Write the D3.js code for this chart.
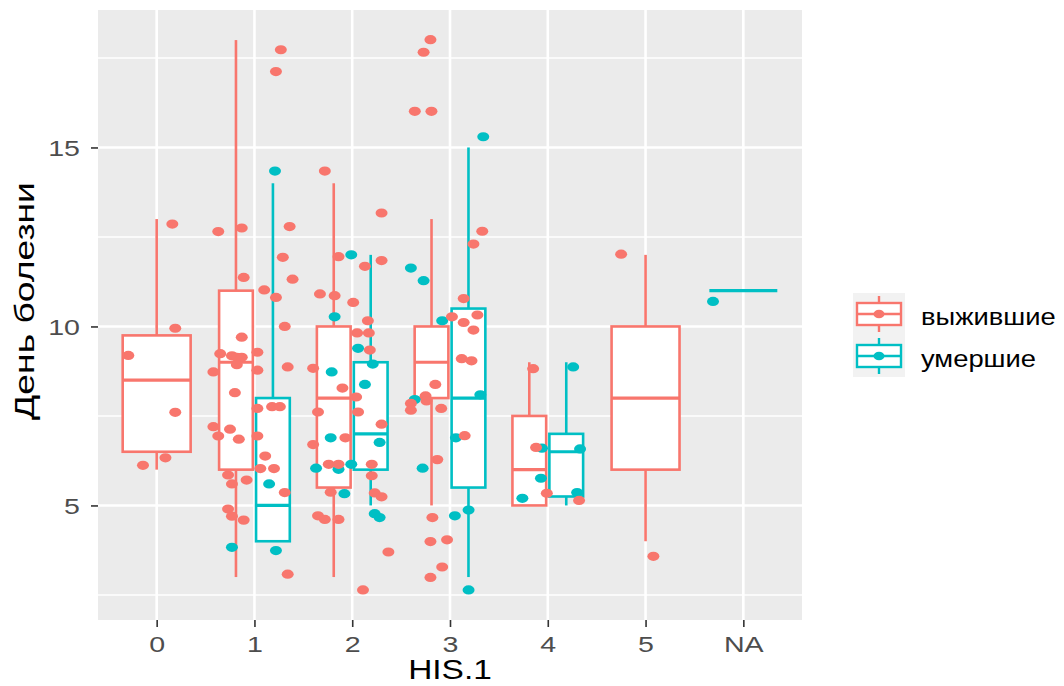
<!DOCTYPE html>
<html>
<head>
<meta charset="utf-8">
<script src="https://cdn.jsdelivr.net/npm/d3@7"></script>
<style>
  body { margin: 0; background: #fff; }
  text { font-family: "Liberation Sans", Arial, sans-serif; }
</style>
</head>
<body>
<svg id="chart" width="1064" height="686"></svg>
<script>
// ---- data ---------------------------------------------------------------
const categories = ["0", "1", "2", "3", "4", "5", "NA"];
const groups = ["выжившие", "умершие"];
const groupColors = ["#F8766D", "#00BFC4"];
const yTicks = [5, 10, 15];
const yMinorTicks = [2.5, 7.5, 12.5, 17.5];

// box statistics: [category, lower whisker, Q1, median, Q3, upper whisker]
const boxesSurvived = [
  ["0", 6, 6.5, 8.5, 9.75, 13],
  ["1", 3, 6, 9, 11, 18],
  ["2", 3, 5.5, 8, 10, 14],
  ["3", 5, 8, 9, 10, 13],
  ["4", 5, 5, 6, 7.5, 9],
  ["5", 4, 6, 8, 10, 12]
];
const boxesDied = [
  ["1", 4, 4, 5, 8, 14],
  ["2", 5, 6, 7, 9, 12],
  ["3", 3, 5.5, 8, 10.5, 15],
  ["4", 5, 5.25, 6.5, 7, 9],
  ["NA", 11, 11, 11, 11, 11]
];

// jittered observations: [category, horizontal jitter (category units), day]
const pointsSurvived = [
  ["0", 0.16, 12.86], ["0", 0.19, 9.95], ["0", -0.29, 9.19], ["0", 0.19, 7.6],
  ["0", 0.09, 6.33], ["0", -0.14, 6.12],
  ["1", 0.27, 17.73], ["1", 0.22, 17.12], ["1", -0.37, 12.65], ["1", -0.13, 12.75],
  ["1", 0.36, 12.79], ["1", 0.29, 11.93], ["1", 0.39, 11.32], ["1", -0.11, 11.37],
  ["1", 0.10, 11.02], ["1", 0.22, 10.81], ["1", 0.31, 10.0], ["1", -0.13, 9.7],
  ["1", -0.35, 9.24], ["1", -0.23, 9.18], ["1", -0.18, 9.14], ["1", -0.13, 9.14],
  ["1", -0.18, 8.93], ["1", 0.03, 9.28], ["1", 0.03, 8.78], ["1", 0.34, 8.87],
  ["1", -0.42, 8.73], ["1", -0.20, 8.15], ["1", 0.03, 7.71], ["1", 0.18, 7.76],
  ["1", 0.26, 7.76], ["1", -0.42, 7.2], ["1", -0.25, 7.13], ["1", -0.37, 6.94],
  ["1", -0.16, 6.85], ["1", 0.03, 6.94], ["1", 0.11, 6.38], ["1", 0.06, 6.03],
  ["1", 0.20, 6.03], ["1", -0.27, 5.85], ["1", -0.23, 5.6], ["1", -0.08, 5.71],
  ["1", 0.31, 5.36], ["1", -0.27, 4.9], ["1", -0.23, 4.7], ["1", -0.11, 4.59],
  ["1", 0.34, 3.08],
  ["2", -0.28, 14.34], ["2", -0.14, 11.95], ["2", 0.30, 13.17], ["2", 0.30, 11.84],
  ["2", 0.13, 11.68], ["2", -0.33, 10.91], ["2", -0.18, 10.86], ["2", 0.01, 10.67],
  ["2", 0.16, 10.16], ["2", 0.05, 9.82], ["2", 0.17, 9.82], ["2", 0.18, 9.34],
  ["2", -0.40, 8.83], ["2", -0.10, 8.28], ["2", 0.04, 8.03], ["2", -0.35, 7.61],
  ["2", 0.06, 7.61], ["2", -0.07, 6.89], ["2", -0.40, 6.7], ["2", 0.30, 7.27],
  ["2", -0.24, 6.15], ["2", -0.14, 6.15], ["2", 0.20, 6.15], ["2", 0.20, 5.83],
  ["2", -0.22, 5.37], ["2", 0.23, 5.35], ["2", 0.30, 5.24], ["2", -0.35, 4.71],
  ["2", -0.28, 4.61], ["2", -0.14, 4.61], ["2", 0.37, 3.7], ["2", 0.11, 2.64],
  ["3", -0.20, 18.01], ["3", -0.27, 17.66], ["3", -0.36, 16.01], ["3", -0.19, 16.01],
  ["3", 0.33, 12.66], ["3", 0.24, 12.3], ["3", 0.14, 10.78], ["3", 0.02, 10.27],
  ["3", 0.14, 10.11], ["3", 0.28, 10.32], ["3", 0.24, 9.9], ["3", 0.12, 9.1],
  ["3", 0.22, 9.04], ["3", -0.15, 8.38], ["3", -0.25, 8.06], ["3", -0.24, 7.92],
  ["3", -0.40, 7.85], ["3", -0.40, 7.66], ["3", -0.09, 7.71], ["3", 0.15, 6.95],
  ["3", -0.13, 6.28], ["3", -0.18, 4.66], ["3", -0.20, 3.99], ["3", -0.03, 4.04],
  ["3", -0.08, 3.28], ["3", -0.20, 2.99],
  ["4", -0.15, 8.82], ["4", -0.12, 6.62], ["4", -0.01, 5.34], ["4", 0.32, 5.14],
  ["5", -0.25, 12.02], ["5", 0.08, 3.58]
];
const pointsDied = [
  ["1", 0.21, 14.34], ["1", 0.15, 5.6], ["1", -0.23, 3.83], ["1", 0.22, 3.74],
  ["2", -0.01, 12.0], ["2", -0.18, 10.27], ["2", 0.06, 9.39], ["2", -0.21, 8.73],
  ["2", 0.13, 8.38], ["2", 0.21, 8.95], ["2", -0.22, 6.89], ["2", 0.28, 6.76],
  ["2", -0.37, 6.04], ["2", -0.14, 6.01], ["2", -0.01, 6.15], ["2", -0.08, 5.33],
  ["2", 0.23, 4.77], ["2", 0.28, 4.66],
  ["3", 0.34, 15.3], ["3", -0.40, 11.63], ["3", -0.27, 11.28], ["3", -0.08, 10.16],
  ["3", -0.36, 7.96], ["3", 0.31, 8.09], ["3", 0.06, 6.89], ["3", -0.28, 6.04],
  ["3", 0.05, 4.71], ["3", 0.19, 4.87], ["3", 0.19, 2.64],
  ["4", 0.26, 8.87], ["4", -0.06, 6.6], ["4", -0.07, 5.76], ["4", -0.26, 5.2],
  ["4", 0.33, 6.58], ["4", 0.30, 5.36],
  ["NA", -0.31, 10.7]
];

// ---- layout ---------------------------------------------------------------
const panel = { left: 98, right: 802, top: 10, bottom: 620 };
const svg = d3.select("#chart");

const x = d3.scalePoint().domain(categories).range([panel.left, panel.right]).padding(0.6);
const step = x.step();
const y = d3.scaleLinear().domain([1.8, 18.84]).range([panel.bottom, panel.top]);

// panel background and grid
svg.append("rect")
  .attr("x", panel.left).attr("y", panel.top)
  .attr("width", panel.right - panel.left).attr("height", panel.bottom - panel.top)
  .attr("fill", "#EBEBEB");

const grid = svg.append("g");
grid.selectAll("line.minor").data(yMinorTicks).join("line")
  .attr("x1", panel.left).attr("x2", panel.right)
  .attr("y1", d => y(d)).attr("y2", d => y(d))
  .attr("stroke", "#fff").attr("stroke-width", 1.4);
grid.selectAll("line.majorY").data(yTicks).join("line")
  .attr("x1", panel.left).attr("x2", panel.right)
  .attr("y1", d => y(d)).attr("y2", d => y(d))
  .attr("stroke", "#fff").attr("stroke-width", 2.6);
grid.selectAll("line.majorX").data(categories).join("line")
  .attr("x1", d => x(d)).attr("x2", d => x(d))
  .attr("y1", panel.top).attr("y2", panel.bottom)
  .attr("stroke", "#fff").attr("stroke-width", 2.6);

// ---- boxplots -------------------------------------------------------------
const boxRows = [];
boxesSurvived.forEach(r => boxRows.push({ g: 0, cat: r[0], s: r.slice(1) }));
boxesDied.forEach(r => boxRows.push({ g: 1, cat: r[0], s: r.slice(1) }));
const groupCount = {};
boxRows.forEach(b => { groupCount[b.cat] = (groupCount[b.cat] || 0) + 1; });
boxRows.forEach(b => {
  if (groupCount[b.cat] === 1) {
    b.cx = x(b.cat); b.w = 0.695 * step;
  } else {
    b.cx = x(b.cat) + (b.g === 0 ? -1 : 1) * 0.189 * step; b.w = 0.345 * step;
  }
});

const boxG = svg.append("g");
boxRows.forEach(b => {
  const [lo, q1, med, q3, hi] = b.s;
  const col = groupColors[b.g];
  const g = boxG.append("g").attr("stroke", col).attr("fill", "none");
  g.append("line").attr("x1", b.cx).attr("x2", b.cx).attr("y1", y(hi)).attr("y2", y(q3)).attr("stroke-width", 2.6);
  g.append("line").attr("x1", b.cx).attr("x2", b.cx).attr("y1", y(q1)).attr("y2", y(lo)).attr("stroke-width", 2.6);
  g.append("rect")
    .attr("x", b.cx - b.w / 2).attr("width", b.w)
    .attr("y", y(q3)).attr("height", Math.max(0, y(q1) - y(q3)))
    .attr("fill", "#fff").attr("stroke-width", 2.6);
  g.append("line").attr("x1", b.cx - b.w / 2).attr("x2", b.cx + b.w / 2)
    .attr("y1", y(med)).attr("y2", y(med)).attr("stroke-width", 3.2);
});

// ---- jittered points -------------------------------------------------------
const pts = [];
pointsDied.forEach(p => pts.push({ g: 1, cat: p[0], j: p[1], v: p[2] }));
pointsSurvived.forEach(p => pts.push({ g: 0, cat: p[0], j: p[1], v: p[2] }));
svg.append("g").selectAll("ellipse").data(pts).join("ellipse")
  .attr("cx", d => x(d.cat) + d.j * step)
  .attr("cy", d => y(d.v))
  .attr("rx", 6).attr("ry", 4.6)
  .attr("fill", d => groupColors[d.g]);

// ---- axes -------------------------------------------------------------
const tickStretch = 1.3;
const yAxis = svg.append("g").attr("transform", `translate(${panel.left},0)`)
  .call(d3.axisLeft(y).tickValues(yTicks).tickSize(7).tickFormat(d3.format("d")));
yAxis.select(".domain").remove();
yAxis.selectAll(".tick line").attr("stroke", "#333").attr("stroke-width", 1.6);
yAxis.selectAll(".tick text")
  .attr("x", -18 / tickStretch).attr("dy", "0.36em")
  .attr("transform", `scale(${tickStretch},1)`)
  .attr("fill", "#4D4D4D").style("font-size", "22px")
  .style("font-family", '"Liberation Sans", Arial, sans-serif');

const xAxis = svg.append("g").attr("transform", `translate(0,${panel.bottom})`)
  .call(d3.axisBottom(x).tickSize(7));
xAxis.select(".domain").remove();
xAxis.selectAll(".tick line").attr("stroke", "#333").attr("stroke-width", 1.6);
xAxis.selectAll(".tick text")
  .attr("y", 32).attr("dy", 0)
  .attr("transform", `scale(${tickStretch},1)`)
  .attr("fill", "#4D4D4D").style("font-size", "22px")
  .style("font-family", '"Liberation Sans", Arial, sans-serif');

// axis titles
svg.append("text")
  .attr("transform", "translate(450,679) scale(1.24,1)")
  .attr("text-anchor", "middle").style("font-size", "27px").attr("fill", "#000")
  .text("HIS.1");

const yTitle = svg.append("text")
  .attr("text-anchor", "middle").style("font-size", "28px").attr("fill", "#000")
  .text("День болезни");
const natural = yTitle.node().getComputedTextLength();
yTitle.attr("transform", `translate(34,301) rotate(-90) scale(${238 / natural},1)`);

// ---- legend -------------------------------------------------------------
const legend = svg.append("g").attr("transform", "translate(853,293)");
const keyW = 52, keyH = 42;
groups.forEach((name, i) => {
  const k = legend.append("g").attr("transform", `translate(0,${i * keyH})`);
  const col = groupColors[i];
  k.append("rect").attr("width", keyW).attr("height", keyH).attr("fill", "#F2F2F2");
  k.append("line").attr("x1", keyW / 2).attr("x2", keyW / 2).attr("y1", 3).attr("y2", keyH - 3)
    .attr("stroke", col).attr("stroke-width", 2.4);
  k.append("rect").attr("x", 4).attr("y", 10).attr("width", keyW - 8).attr("height", keyH - 20)
    .attr("fill", "#fff").attr("stroke", col).attr("stroke-width", 2.4);
  k.append("line").attr("x1", 4).attr("x2", keyW - 4).attr("y1", keyH / 2).attr("y2", keyH / 2)
    .attr("stroke", col).attr("stroke-width", 2.4);
  k.append("ellipse").attr("cx", keyW / 2).attr("cy", keyH / 2).attr("rx", 5.5).attr("ry", 4.3)
    .attr("fill", col);
  legend.append("text")
    .attr("transform", `translate(${921 - 853},${i * keyH + 32}) scale(1.19,1)`)
    .style("font-size", "23px").attr("fill", "#000")
    .text(name);
});
</script>
</body>
</html>
